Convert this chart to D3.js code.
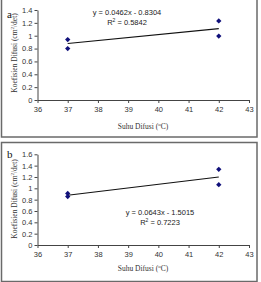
<!DOCTYPE html>
<html>
<head>
<meta charset="utf-8">
<script src="https://cdn.jsdelivr.net/npm/d3@7"></script>
<style>
  body { margin: 0; background: #fff; }
  svg { display: block; }
  .tick text { font-family: "Liberation Sans", Arial, sans-serif; font-size: 7.5px; fill: #333; }
  .ttl { font-family: "Liberation Serif", "Times New Roman", serif; font-size: 7.5px; fill: #333; }
  .eq { font-family: "Liberation Sans", Arial, sans-serif; font-size: 7.5px; fill: #222; }
</style>
</head>
<body>
<svg width="261" height="282"></svg>
<script>
// x ticks shared by both charts
const xTicks = [36, 37, 38, 39, 40, 41, 42, 43];

// chart a
const tempsA = [37, 37, 42, 42];
const coefA = [0.94, 0.80, 1.23, 0.995];
const yTicksA = [0, 0.2, 0.4, 0.6, 0.8, 1, 1.2, 1.4];
const slopeA = 0.0462, interceptA = -0.8304;
const eqA = ["y = 0.0462x - 0.8304", "0.5842"];

// chart b
const tempsB = [37, 37, 42, 42];
const coefB = [0.91, 0.855, 1.335, 1.065];
const yTicksB = [0, 0.2, 0.4, 0.6, 0.8, 1, 1.2, 1.4, 1.6];
const slopeB = 0.0643, interceptB = -1.5015;
const eqB = ["y = 0.0643x - 1.5015", "0.7223"];

const svg = d3.select("svg");

function drawPanel(o) {
    let g = svg.append("g").attr("transform", `translate(0,${o.top})`);

    // frame
    g.append("rect")
        .attr("x", 1.5).attr("y", o.frameY)
        .attr("width", 255.5).attr("height", o.frameH)
        .attr("fill", "none").attr("stroke", "#6a6a6a").attr("stroke-width", 1.5);

    let x = d3.scaleLinear().domain([36, 43]).range([37.5, 249]);
    let y = d3.scaleLinear().domain([0, o.yMax]).range([o.axisY, o.plotTop]);

    let xAxis = d3.axisBottom(x).tickValues(xTicks).tickSize(3).tickSizeOuter(0).tickPadding(4)
        .tickFormat(d3.format("d"));
    let yAxis = d3.axisLeft(y).tickValues(o.yTicks).tickSize(3).tickSizeOuter(0).tickPadding(2)
        .tickFormat(d3.format("~g"));

    g.append("g").attr("transform", `translate(0,${o.axisY})`).call(xAxis)
        .call(s => s.selectAll("line,path").attr("stroke", "#444"));
    g.append("g").attr("transform", `translate(${x(36)},0)`).call(yAxis)
        .call(s => s.selectAll("line,path").attr("stroke", "#444"));

    // trend line
    g.append("line")
        .attr("x1", x(37)).attr("y1", y(o.slope * 37 + o.intercept))
        .attr("x2", x(42)).attr("y2", y(o.slope * 42 + o.intercept))
        .attr("stroke", "#111").attr("stroke-width", 1.2);

    // points
    g.selectAll(".pt").data(o.temps.map((t, i) => [t, o.coef[i]]))
        .enter().append("path")
        .attr("class", "pt")
        .attr("d", d3.symbol(d3.symbolDiamond2, 18))
        .attr("transform", d => `translate(${x(d[0])},${y(d[1])})`)
        .attr("fill", "#10107a");

    // equation
    g.append("text").attr("class", "eq").attr("text-anchor", "middle")
        .attr("x", o.eqX).attr("y", o.eqY).text(o.eq[0]);
    let r2 = g.append("text").attr("class", "eq").attr("text-anchor", "middle")
        .attr("x", o.eqX).attr("y", o.eqY + 10);
    r2.append("tspan").text("R");
    r2.append("tspan").attr("dy", -3).attr("font-size", 5).text("2");
    r2.append("tspan").attr("dy", 3).text(" = " + o.eq[1]);

    // axis titles
    let xt = g.append("text").attr("class", "ttl").attr("text-anchor", "middle")
        .attr("x", 143).attr("y", o.xTitleY);
    xt.append("tspan").text("Suhu Difusi (");
    xt.append("tspan").attr("dy", -3).attr("font-size", 5).text("o");
    xt.append("tspan").attr("dy", 3).text("C)");

    let yt = g.append("text").attr("class", "ttl").attr("text-anchor", "middle")
        .attr("transform", `translate(17,${o.yTitleY}) rotate(-90)`);
    yt.append("tspan").text("Koefisien Difusi (cm");
    yt.append("tspan").attr("dy", -3).attr("font-size", 5).text("2");
    yt.append("tspan").attr("dy", 3).text("/det)");

    // panel letter
    g.append("text").attr("class", "ttl").attr("x", 7).attr("y", o.letterY)
        .style("font-size", "11px").style("fill", "#111").text(o.letter);
}

drawPanel({
    top: 0, frameY: -2, frameH: 139, axisY: 100, plotTop: 10, yMax: 1.4,
    yTicks: yTicksA, temps: tempsA, coef: coefA, slope: slopeA, intercept: interceptA,
    eq: eqA, eqX: 127, eqY: 15, xTitleY: 129, yTitleY: 53, letter: "a", letterY: 18
});
drawPanel({
    top: 141, frameY: 1.5, frameH: 139, axisY: 104, plotTop: 13.3, yMax: 1.6,
    yTicks: yTicksB, temps: tempsB, coef: coefB, slope: slopeB, intercept: interceptB,
    eq: eqB, eqX: 160, eqY: 74, xTitleY: 130, yTitleY: 58, letter: "b", letterY: 17
});
</script>
</body>
</html>
